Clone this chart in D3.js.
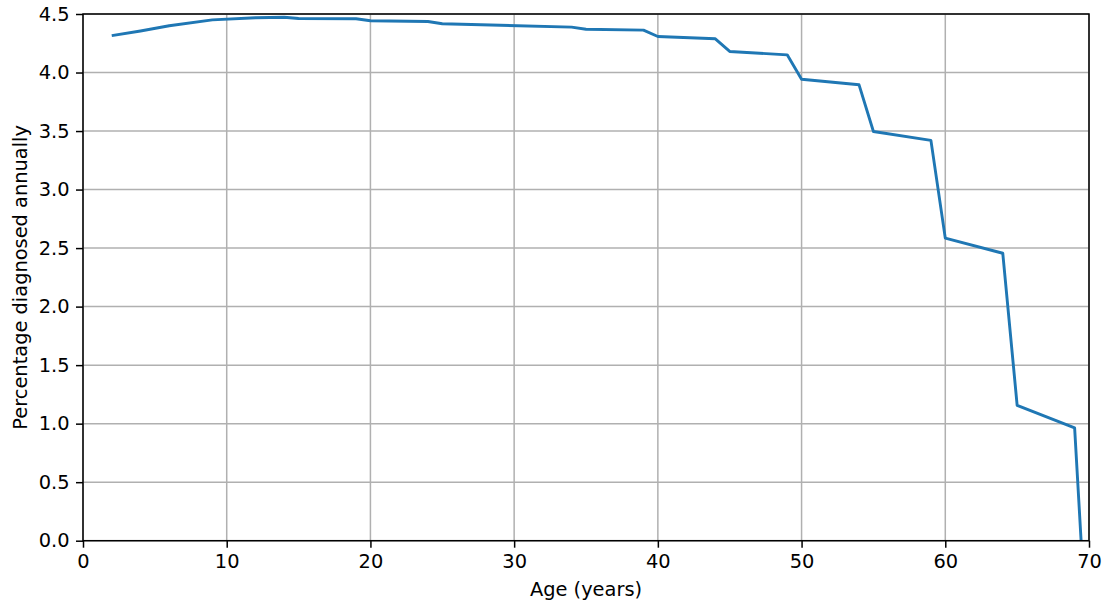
<!DOCTYPE html>
<html>
<head>
<meta charset="utf-8">
<script src="https://cdn.jsdelivr.net/npm/d3@7"></script>
<style>
  html, body { margin: 0; padding: 0; background: #fff; }
  svg { display: block; font-family: "DejaVu Sans", sans-serif; }
</style>
</head>
<body>
<svg id="chart" width="1106" height="603"></svg>
<script>
// Annual diagnosis rate by age
const ages = [2, 4, 6, 9, 12, 14, 15, 19, 20, 24, 25, 34, 35, 39, 40, 44, 45, 49, 50, 54, 55, 59, 60, 64, 65, 69, 69.45];
const rates = [4.315, 4.355, 4.40, 4.45, 4.468, 4.472, 4.462, 4.459, 4.442, 4.436, 4.417, 4.388, 4.37, 4.362, 4.308, 4.288, 4.18, 4.151, 3.943, 3.895, 3.496, 3.42, 2.585, 2.456, 1.157, 0.964, 0];
const xTicks = [0, 10, 20, 30, 40, 50, 60, 70];
const yTicks = [0, 0.5, 1.0, 1.5, 2.0, 2.5, 3.0, 3.5, 4.0, 4.5];

const svg = d3.select("#chart");
const plotL = 83, plotR = 1089, plotT = 14, plotB = 540.7;
const fontPx = 19.4;

const x = d3.scaleLinear().domain([0, 70]).range([plotL, plotR]);
const y = d3.scaleLinear().domain([0, 4.5]).range([plotB, plotT]);

// grid
const grid = svg.append("g");
grid.selectAll(".vx").data(xTicks).join("line")
  .attr("x1", d => x(d)).attr("x2", d => x(d))
  .attr("y1", plotT).attr("y2", plotB)
  .attr("stroke", "#b0b0b0").attr("stroke-width", 1.5);
grid.selectAll(".hy").data(yTicks).join("line")
  .attr("x1", plotL).attr("x2", plotR)
  .attr("y1", d => y(d)).attr("y2", d => y(d))
  .attr("stroke", "#b0b0b0").attr("stroke-width", 1.5);

// data line
const pts = ages.map((a, i) => [a, rates[i]]);
svg.append("path")
  .datum(pts)
  .attr("fill", "none")
  .attr("stroke", "#1f77b4")
  .attr("stroke-width", 2.9)
  .attr("stroke-linejoin", "round")
  .attr("stroke-linecap", "butt")
  .attr("d", d3.line().x(d => x(d[0])).y(d => y(d[1])));

// axes
const xAxis = svg.append("g").attr("transform", `translate(0,${plotB})`)
  .call(d3.axisBottom(x).tickValues(xTicks).tickFormat(d3.format("d")).tickSize(7).tickPadding(7));
const yAxis = svg.append("g").attr("transform", `translate(${plotL},0)`)
  .call(d3.axisLeft(y).tickValues(yTicks).tickFormat(d3.format(".1f")).tickSize(7).tickPadding(6.5));
[xAxis, yAxis].forEach(g => {
  g.select(".domain").remove();
  g.selectAll("line").attr("stroke", "#000").attr("stroke-width", 1.5);
  g.selectAll("text").attr("font-family", "DejaVu Sans").attr("font-size", fontPx).attr("fill", "#000");
});

// frame
svg.append("rect")
  .attr("x", plotL).attr("y", plotT)
  .attr("width", plotR - plotL).attr("height", plotB - plotT)
  .attr("fill", "none").attr("stroke", "#000").attr("stroke-width", 1.5);

// labels
svg.append("text")
  .attr("x", (plotL + plotR) / 2).attr("y", 595.5)
  .attr("text-anchor", "middle").attr("font-size", fontPx)
  .text("Age (years)");
svg.append("text")
  .attr("transform", `translate(26.5,${(plotT + plotB) / 2}) rotate(-90)`)
  .attr("text-anchor", "middle").attr("font-size", fontPx)
  .text("Percentage diagnosed annually");
</script>
</body>
</html>
